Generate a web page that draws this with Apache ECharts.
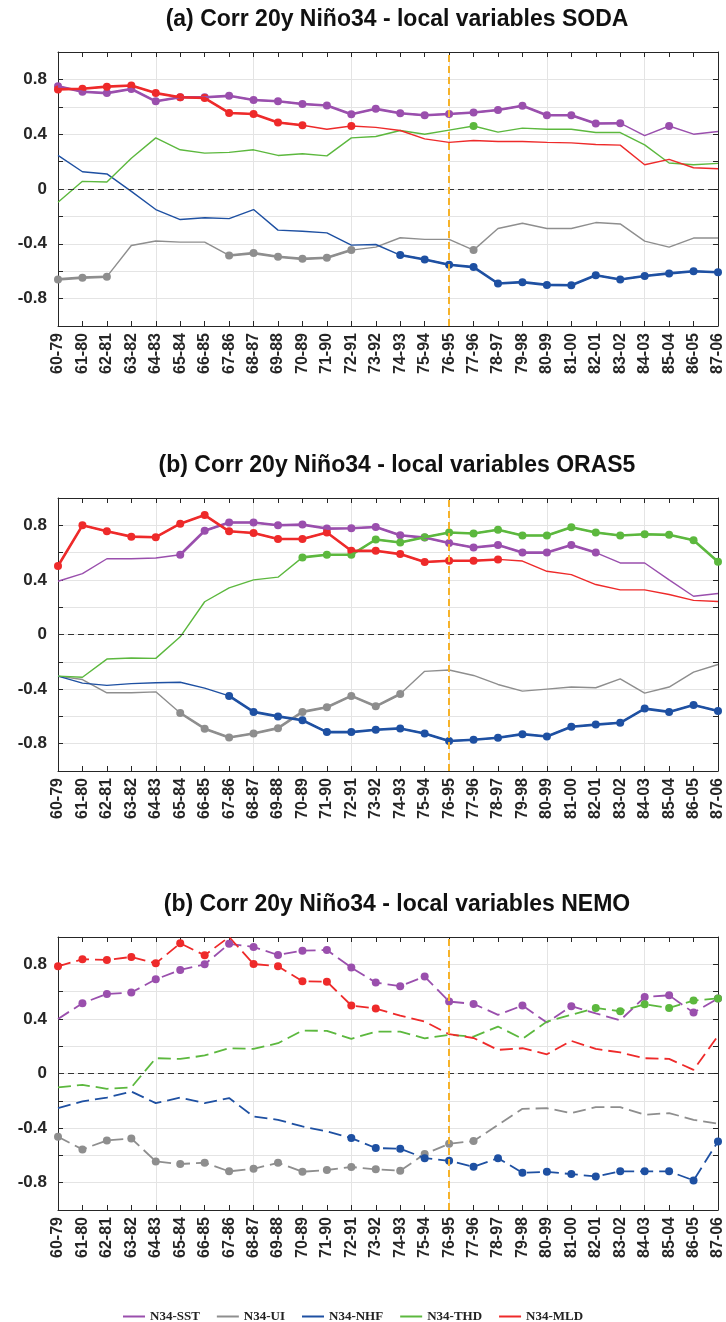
<!DOCTYPE html>
<html>
<head>
<meta charset="utf-8">
<script src="https://cdn.jsdelivr.net/npm/echarts@6/dist/echarts.min.js"></script>
<style>
  html, body { margin: 0; padding: 0; background: #fff; }
  #chart { width: 726px; height: 1322px; }
</style>
</head>
<body>
<div id="chart"></div>
<script>
  var categories = ['60-79', '61-80', '62-81', '63-82', '64-83', '65-84', '66-85', '67-86', '68-87', '69-88',
    '70-89', '71-90', '72-91', '73-92', '74-93', '75-94', '76-95', '77-96', '78-97', '79-98',
    '80-99', '81-00', '82-01', '83-02', '84-03', '85-04', '86-05', '87-06']
  var seriesNames = ['N34-SST', 'N34-UI', 'N34-NHF', 'N34-THD', 'N34-MLD']
  var panelTitles = ['(a) Corr 20y Niño34 - local variables SODA',
    '(b) Corr 20y Niño34 - local variables ORAS5',
    '(b) Corr 20y Niño34 - local variables NEMO']
  var yTickLabels = ['-0.8', '-0.4', '0', '0.4', '0.8']
  var markCategory = '76-95'

  // (a) SODA
  var sodaSST = [0.75, 0.71, 0.70, 0.73, 0.64, 0.67, 0.67, 0.68, 0.65, 0.64, 0.62, 0.61, 0.545, 0.585, 0.553, 0.538, 0.548, 0.558, 0.577, 0.608, 0.538, 0.538, 0.478, 0.48, 0.39, 0.46, 0.40, 0.42]
  var sodaUI = [-0.66, -0.647, -0.64, -0.412, -0.38, -0.388, -0.388, -0.485, -0.468, -0.495, -0.51, -0.502, -0.446, -0.424, -0.356, -0.368, -0.368, -0.446, -0.288, -0.25, -0.288, -0.288, -0.245, -0.255, -0.38, -0.424, -0.358, -0.358]
  var sodaNHF = [0.245, 0.126, 0.11, -0.017, -0.15, -0.223, -0.21, -0.216, -0.15, -0.30, -0.308, -0.32, -0.41, -0.405, -0.482, -0.514, -0.553, -0.57, -0.69, -0.68, -0.70, -0.703, -0.63, -0.66, -0.635, -0.616, -0.60, -0.608]
  var sodaTHD = [-0.097, 0.056, 0.051, 0.225, 0.373, 0.286, 0.262, 0.267, 0.286, 0.245, 0.257, 0.242, 0.373, 0.383, 0.427, 0.40, 0.43, 0.46, 0.415, 0.444, 0.436, 0.436, 0.412, 0.412, 0.322, 0.19, 0.177, 0.187]
  var sodaMLD = [0.727, 0.732, 0.747, 0.756, 0.70, 0.67, 0.664, 0.555, 0.548, 0.485, 0.465, 0.436, 0.46, 0.45, 0.427, 0.366, 0.34, 0.354, 0.347, 0.347, 0.34, 0.337, 0.325, 0.32, 0.177, 0.216, 0.155, 0.148]
  // significant points (1 = marker)
  var sodaSSTSig = [1, 1, 1, 1, 1, 1, 1, 1, 1, 1, 1, 1, 1, 1, 1, 1, 1, 1, 1, 1, 1, 1, 1, 1, 0, 1, 0, 0]
  var sodaUISig = [1, 1, 1, 0, 0, 0, 0, 1, 1, 1, 1, 1, 1, 0, 0, 0, 0, 1, 0, 0, 0, 0, 0, 0, 0, 0, 0, 0]
  var sodaNHFSig = [0, 0, 0, 0, 0, 0, 0, 0, 0, 0, 0, 0, 0, 0, 1, 1, 1, 1, 1, 1, 1, 1, 1, 1, 1, 1, 1, 1]
  var sodaTHDSig = [0, 0, 0, 0, 0, 0, 0, 0, 0, 0, 0, 0, 0, 0, 0, 0, 0, 1, 0, 0, 0, 0, 0, 0, 0, 0, 0, 0]
  var sodaMLDSig = [1, 1, 1, 1, 1, 1, 1, 1, 1, 1, 1, 0, 1, 0, 0, 0, 0, 0, 0, 0, 0, 0, 0, 0, 0, 0, 0, 0]

  // (b) ORAS5
  var orasSST = [0.39, 0.446, 0.555, 0.555, 0.56, 0.584, 0.76, 0.82, 0.82, 0.80, 0.805, 0.776, 0.778, 0.788, 0.727, 0.71, 0.67, 0.637, 0.655, 0.60, 0.60, 0.655, 0.60, 0.524, 0.524, 0.40, 0.28, 0.30]
  var orasUI = [-0.305, -0.33, -0.427, -0.427, -0.42, -0.575, -0.69, -0.754, -0.725, -0.686, -0.567, -0.533, -0.45, -0.526, -0.436, -0.27, -0.26, -0.30, -0.366, -0.415, -0.40, -0.385, -0.39, -0.325, -0.43, -0.385, -0.276, -0.22]
  var orasNHF = [-0.305, -0.356, -0.373, -0.36, -0.354, -0.35, -0.393, -0.45, -0.567, -0.60, -0.628, -0.715, -0.715, -0.698, -0.688, -0.725, -0.78, -0.771, -0.756, -0.73, -0.747, -0.676, -0.66, -0.647, -0.543, -0.567, -0.516, -0.56]
  var orasTHD = [-0.305, -0.313, -0.18, -0.172, -0.175, -0.017, 0.24, 0.342, 0.40, 0.42, 0.565, 0.584, 0.584, 0.696, 0.674, 0.713, 0.747, 0.74, 0.768, 0.725, 0.725, 0.785, 0.747, 0.725, 0.734, 0.73, 0.69, 0.533]
  var orasMLD = [0.502, 0.80, 0.756, 0.717, 0.713, 0.812, 0.875, 0.756, 0.744, 0.70, 0.70, 0.747, 0.613, 0.613, 0.589, 0.531, 0.54, 0.54, 0.55, 0.538, 0.463, 0.439, 0.366, 0.327, 0.327, 0.293, 0.25, 0.242]
  var orasSSTSig = [0, 0, 0, 0, 0, 1, 1, 1, 1, 1, 1, 1, 1, 1, 1, 1, 1, 1, 1, 1, 1, 1, 1, 0, 0, 0, 0, 0]
  var orasUISig = [0, 0, 0, 0, 0, 1, 1, 1, 1, 1, 1, 1, 1, 1, 1, 0, 0, 0, 0, 0, 0, 0, 0, 0, 0, 0, 0, 0]
  var orasNHFSig = [0, 0, 0, 0, 0, 0, 0, 1, 1, 1, 1, 1, 1, 1, 1, 1, 1, 1, 1, 1, 1, 1, 1, 1, 1, 1, 1, 1]
  var orasTHDSig = [0, 0, 0, 0, 0, 0, 0, 0, 0, 0, 1, 1, 1, 1, 1, 1, 1, 1, 1, 1, 1, 1, 1, 1, 1, 1, 1, 1]
  var orasMLDSig = [1, 1, 1, 1, 1, 1, 1, 1, 1, 1, 1, 1, 1, 1, 1, 1, 1, 1, 1, 0, 0, 0, 0, 0, 0, 0, 0, 0]

  // (b) NEMO
  var nemoSST = [0.40, 0.515, 0.583, 0.593, 0.69, 0.759, 0.80, 0.95, 0.927, 0.868, 0.90, 0.905, 0.776, 0.666, 0.64, 0.71, 0.527, 0.51, 0.43, 0.498, 0.373, 0.493, 0.44, 0.39, 0.56, 0.573, 0.446, 0.55]
  var nemoUI = [-0.463, -0.556, -0.49, -0.476, -0.644, -0.663, -0.654, -0.717, -0.698, -0.654, -0.72, -0.707, -0.685, -0.702, -0.712, -0.59, -0.515, -0.495, -0.376, -0.259, -0.254, -0.29, -0.246, -0.246, -0.302, -0.29, -0.339, -0.368]
  var nemoNHF = [-0.254, -0.205, -0.176, -0.132, -0.217, -0.176, -0.217, -0.18, -0.315, -0.339, -0.388, -0.424, -0.473, -0.546, -0.551, -0.62, -0.64, -0.683, -0.62, -0.727, -0.72, -0.737, -0.754, -0.717, -0.717, -0.717, -0.783, -0.498]
  var nemoTHD = [-0.102, -0.083, -0.112, -0.102, 0.112, 0.107, 0.132, 0.185, 0.18, 0.222, 0.315, 0.312, 0.254, 0.307, 0.307, 0.258, 0.283, 0.27, 0.344, 0.254, 0.38, 0.43, 0.48, 0.456, 0.507, 0.48, 0.534, 0.55]
  var nemoMLD = [0.785, 0.837, 0.832, 0.854, 0.807, 0.954, 0.866, 1.0, 0.802, 0.785, 0.676, 0.673, 0.498, 0.476, 0.424, 0.38, 0.288, 0.26, 0.173, 0.185, 0.141, 0.239, 0.18, 0.154, 0.112, 0.107, 0.027, 0.276]
  var nemoSSTSig = [0, 1, 1, 1, 1, 1, 1, 1, 1, 1, 1, 1, 1, 1, 1, 1, 1, 1, 0, 1, 0, 1, 0, 0, 1, 1, 1, 1]
  var nemoUISig = [1, 1, 1, 1, 1, 1, 1, 1, 1, 1, 1, 1, 1, 1, 1, 1, 1, 1, 0, 0, 0, 0, 0, 0, 0, 0, 0, 0]
  var nemoNHFSig = [0, 0, 0, 0, 0, 0, 0, 0, 0, 0, 0, 0, 1, 1, 1, 1, 1, 1, 1, 1, 1, 1, 1, 1, 1, 1, 1, 1]
  var nemoTHDSig = [0, 0, 0, 0, 0, 0, 0, 0, 0, 0, 0, 0, 0, 0, 0, 0, 0, 0, 0, 0, 0, 0, 1, 1, 1, 1, 1, 1]
  var nemoMLDSig = [1, 1, 1, 1, 1, 1, 1, 0, 1, 1, 1, 1, 1, 1, 0, 0, 0, 0, 0, 0, 0, 0, 0, 0, 0, 0, 0, 0]

  var colors = ['#9a4fad', '#8e8e8e', '#1e50a2', '#5cb83e', '#ee2a2a']
  var axisColor = '#262626'
  var gridColor = '#e4e4e4'
  var font = 'Liberation Sans, Arial, sans-serif'
  // plot boxes: top, height
  var boxes = [[52, 274], [498, 273], [937, 273]]

  var panels = [
    {vals: [sodaSST, sodaUI, sodaNHF, sodaTHD, sodaMLD], sigs: [sodaSSTSig, sodaUISig, sodaNHFSig, sodaTHDSig, sodaMLDSig], dashed: false},
    {vals: [orasSST, orasUI, orasNHF, orasTHD, orasMLD], sigs: [orasSSTSig, orasUISig, orasNHFSig, orasTHDSig, orasMLDSig], dashed: false},
    {vals: [nemoSST, nemoUI, nemoNHF, nemoTHD, nemoMLD], sigs: [nemoSSTSig, nemoUISig, nemoNHFSig, nemoTHDSig, nemoMLDSig], dashed: true}
  ]

  var grids = [], xAxes = [], yAxes = [], series = [], titles = []

  function yLabel (v) {
    var r = Math.round(v * 10) / 10
    var s = String(r)
    return yTickLabels.indexOf(s) >= 0 ? s : ''
  }

  function addPanel (p) {
    var panel = panels[p]
    grids.push({left: 58, right: 5, top: boxes[p][0], height: boxes[p][1]})
    titles.push({
      text: panelTitles[p], left: 397, top: boxes[p][0] - 44, textAlign: 'center', padding: 0,
      textStyle: {fontFamily: font, fontWeight: 'bold', fontSize: 23, color: '#111'}
    })
    var line = {show: true, onZero: false, lineStyle: {color: axisColor, width: 1}}
    var tick = {show: true, inside: true, length: 5, interval: 0, lineStyle: {color: axisColor}}
    xAxes.push({
      gridIndex: p, type: 'category', data: categories, boundaryGap: false, position: 'bottom',
      axisLine: line, axisTick: tick,
      axisLabel: {rotate: 90, interval: 0, margin: 7, fontSize: 16, fontWeight: 'bold', fontFamily: font, color: axisColor},
      splitLine: {show: true, interval: function (i) { return i % 4 === 0 }, lineStyle: {color: gridColor}}
    })
    xAxes.push({
      gridIndex: p, type: 'category', data: categories, boundaryGap: false, position: 'top',
      axisLine: line, axisTick: tick, axisLabel: {show: false}, splitLine: {show: false}
    })
    yAxes.push({
      gridIndex: p, type: 'value', min: -1, max: 1, interval: 0.2, position: 'left',
      axisLine: line, axisTick: {show: true, inside: true, length: 5, lineStyle: {color: axisColor}},
      axisLabel: {formatter: yLabel, margin: 11, fontSize: 17, fontWeight: 'bold', fontFamily: font, color: axisColor},
      splitLine: {show: true, lineStyle: {color: gridColor}}
    })
    yAxes.push({
      gridIndex: p, type: 'value', min: -1, max: 1, interval: 0.2, position: 'right',
      axisLine: line, axisTick: {show: true, inside: true, length: 5, lineStyle: {color: axisColor}},
      axisLabel: {show: false}, splitLine: {show: false}
    })

    for (var k = 0; k < 5; k++) {
      (function (v, s, color, name, first) {
        var base = {
          name: name, type: 'line', xAxisIndex: 2 * p, yAxisIndex: 2 * p, data: v,
          color: color, itemStyle: {color: color}, animation: false, silent: true,
          lineStyle: {color: color, width: panel.dashed ? 1.8 : 1.4, type: panel.dashed ? [13, 6] : 'solid'},
          symbol: 'circle', showAllSymbol: true,
          symbolSize: function (val, params) { return s[params.dataIndex] ? 8 : 0 },
          z: 3
        }
        if (first) {
          base.markLine = {
            silent: true, symbol: 'none', animation: false, label: {show: false},
            data: [
              {yAxis: 0, lineStyle: {color: '#333', type: [6, 4], width: 1}},
              {xAxis: markCategory, lineStyle: {color: '#f6b22a', type: [7, 4], width: 2}}
            ]
          }
        }
        series.push(base)
        if (!panel.dashed) {
          // thicker segments between significant points
          series.push({
            name: name, type: 'line', xAxisIndex: 2 * p, yAxisIndex: 2 * p,
            data: v.map(function (x, i) { return s[i] ? x : null }),
            connectNulls: false, showSymbol: false, animation: false, silent: true,
            color: color, lineStyle: {color: color, width: 2.6}, z: 4
          })
        }
      })(panel.vals[k], panel.sigs[k], colors[k], seriesNames[k], k === 0)
    }
  }

  for (var p = 0; p < 3; p++) {
    addPanel(p)
  }

  var myChart = echarts.init(document.getElementById('chart'), null, {renderer: 'canvas'})
  var option = {
    backgroundColor: '#fff',
    animation: false,
    title: titles,
    legend: {
      data: seriesNames, left: 118, top: 1305, icon: 'rect', itemWidth: 22, itemHeight: 2, itemGap: 17,
      textStyle: {fontFamily: 'Liberation Serif, Times New Roman, serif', fontWeight: 'bold', fontSize: 13, color: '#222'}
    },
    grid: grids,
    xAxis: xAxes,
    yAxis: yAxes,
    series: series
  }
  myChart.setOption(option, true)
</script>
</body>
</html>
